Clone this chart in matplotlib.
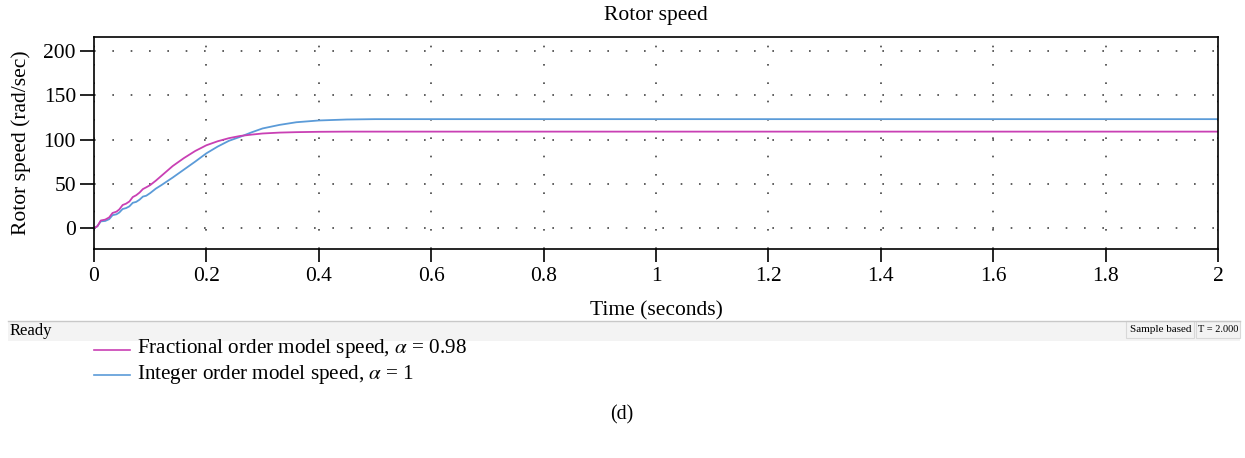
import numpy as np
import matplotlib
matplotlib.use('Agg')
import matplotlib.pyplot as plt
from matplotlib.patches import Rectangle

plt.rcParams['font.family'] = ['Liberation Serif', 'DejaVu Serif']
plt.rcParams['mathtext.fontset'] = 'stix'

# -----------------------------------------------------------------------------
# data

t_ripple = [0, 0.006, 0.012, 0.020, 0.027, 0.033, 0.040, 0.045, 0.051, 0.057,
            0.063, 0.069, 0.075, 0.081, 0.087, 0.093]
t_rise = [0.10, 0.11, 0.12, 0.14, 0.16, 0.18, 0.20, 0.22, 0.24, 0.26,
          0.28, 0.30, 0.33, 0.36, 0.40, 0.45, 0.50, 2.0]

w_frac = [0, 2, 8.5, 9.5, 12, 17, 18.5, 21, 26, 27.5,
          30, 35, 37, 40, 44, 46,
          48.5, 53.5, 59, 70, 79, 87, 93.5, 98, 101.5, 104,
          105.5, 106.8, 107.8, 108.3, 108.7, 108.9, 108.9, 108.9]
w_int = [0, 2, 7.5, 8, 10, 14.5, 15.5, 17.5, 21.5, 22.5,
         24.5, 28.5, 29.5, 32, 35.5, 36.5,
         39.5, 44.5, 48.5, 57, 66, 75, 84.4, 92, 98.5, 103,
         108, 112.5, 116.5, 119.5, 121.5, 122.6, 123, 123]

t_all = t_ripple + t_rise

x_ticks = [0, 0.2, 0.4, 0.6, 0.8, 1, 1.2, 1.4, 1.6, 1.8, 2]
x_labels = ['0', '0.2', '0.4', '0.6', '0.8', '1', '1.2', '1.4', '1.6', '1.8', '2']
y_ticks = [0, 50, 100, 150, 200]

c_frac = '#c940b4'
c_int = '#5b9bd8'

# -----------------------------------------------------------------------------

fig = plt.figure(figsize=(12.45, 4.58), dpi=100)
ax = fig.add_axes([94/1245, 1 - 249/458, 1124/1245, 212/458])

ax.plot(t_all, w_int, color=c_int, linewidth=1.3)
ax.plot(t_all, w_frac, color=c_frac, linewidth=1.3)

ax.set_xlim(0, 2)
ax.set_ylim(-23.7, 215.8)
ax.set_xticks(x_ticks)
ax.set_xticklabels(x_labels)
ax.set_yticks(y_ticks)
ax.tick_params(labelsize=15.5, width=1.2, direction='out')
ax.tick_params(axis='y', length=10, pad=3)
ax.tick_params(axis='x', length=9, pad=4)
ax.grid(True, color='#444444', linestyle=(0, (1, 10)), linewidth=1.2)
for s in ax.spines.values():
    s.set_linewidth(1.2)

ax.set_title('Rotor speed', fontsize=15.5, pad=12)
ax.set_xlabel('Time (seconds)', fontsize=15.5, labelpad=11)
ax.set_ylabel('Rotor speed (rad/sec)', fontsize=15.5, labelpad=9)

# status bar
fig.patches.append(Rectangle((8/1245, 1 - 341/458), 1232/1245, 20/458,
                             transform=fig.transFigure,
                             facecolor='#f3f3f3', edgecolor='none', zorder=0))
fig.add_artist(plt.Line2D([8/1245, 1240/1245], [1 - 320.5/458] * 2,
                          transform=fig.transFigure, color='#c8c8c8', linewidth=1))
fig.text(10/1245, 1 - 331/458, 'Ready', fontsize=12, va='center', ha='left')
fig.patches.append(Rectangle((1126/1245, 1 - 338/458), 68/1245, 17/458,
                             transform=fig.transFigure, facecolor='none',
                             edgecolor='#d8d8d8', linewidth=0.8))
fig.patches.append(Rectangle((1196/1245, 1 - 338/458), 44/1245, 17/458,
                             transform=fig.transFigure, facecolor='none',
                             edgecolor='#d8d8d8', linewidth=0.8))
fig.text(1192/1245, 1 - 330/458, 'Sample based', fontsize=8, va='center', ha='right')
fig.text(1218/1245, 1 - 330/458, 'T = 2.000', fontsize=7.5, va='center', ha='center')

# legend
labels = [r'Fractional order model speed, $\alpha$ = 0.98',
          r'Integer order model speed, $\alpha$ = 1']
for i, (lab, c) in enumerate(zip(labels, [c_frac, c_int])):
    yy = 1 - (349 + 25*i)/458
    fig.add_artist(plt.Line2D([94/1245, 130/1245], [yy - 1/458, yy - 1/458],
                              transform=fig.transFigure, color=c, linewidth=1.2))
    fig.text(137/1245, yy, lab, fontsize=15.2, va='center', ha='left')

fig.text(622/1245, 1 - 415/458, '(d)', fontsize=14.3, va='center', ha='center')

plt.savefig('out.png', dpi=100)
